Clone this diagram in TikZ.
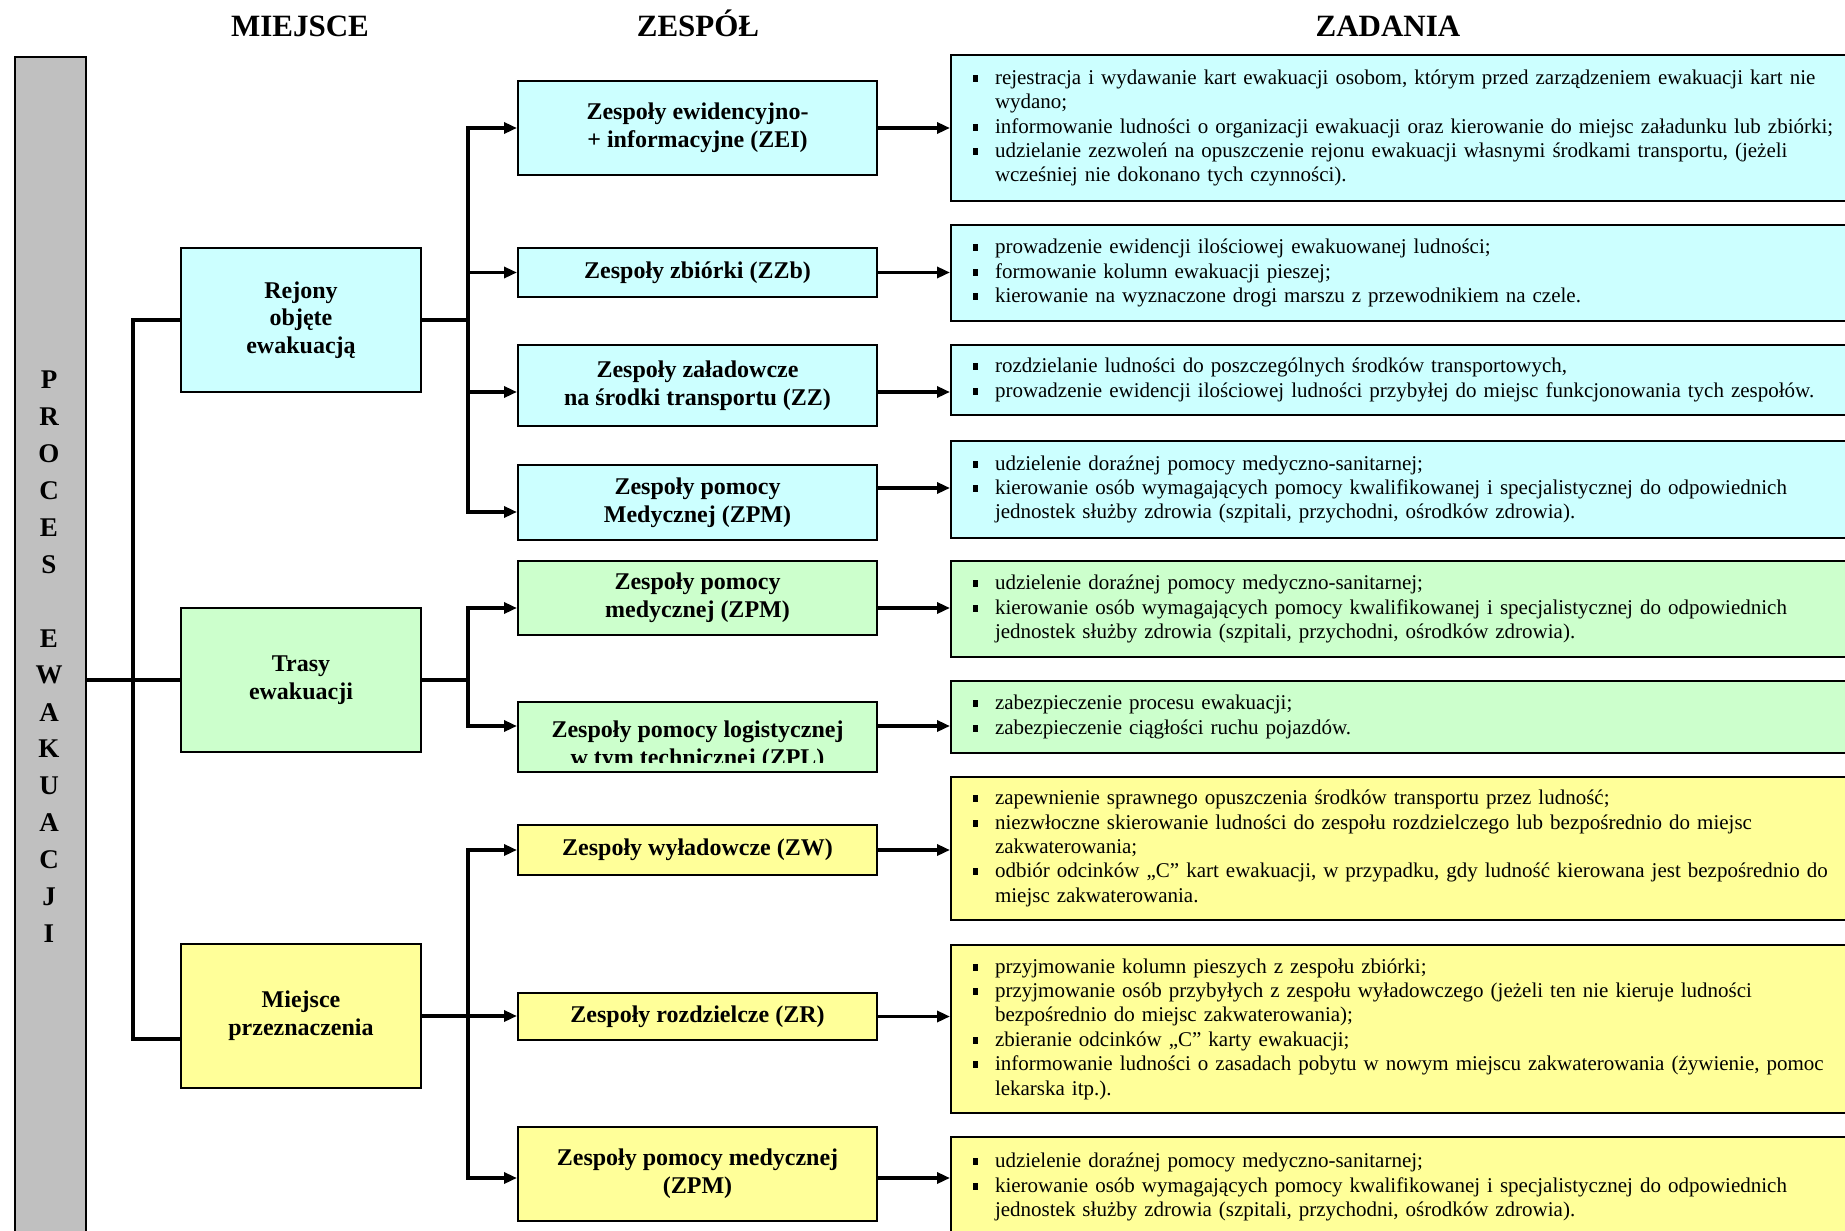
\documentclass[tikz,border=0pt]{standalone}
\usepackage{fontspec}
\setmainfont{Liberation Serif}
\usetikzlibrary{arrows.meta}
\newcommand\itm{\makebox[22.5pt][l]{\rule[2.5pt]{5.5pt}{7pt}}}
\newcommand\cnt{\hspace*{22.5pt}}
\begin{document}
\begin{tikzpicture}[x=1pt,y=-1pt,
  zespoltekst/.style={align=center, font=\bfseries\fontsize{24}{28}\selectfont},
  miejscebox/.style={draw, line width=2pt, minimum width=240pt, minimum height=144pt, inner sep=0pt, align=center, font=\bfseries\fontsize{24}{27.6}\selectfont},
  zespolbox/.style={draw, line width=2pt, minimum width=359pt, inner sep=0pt, zespoltekst},
  zadaniebox/.style={draw, line width=2pt, anchor=west, text width=900pt, inner xsep=21.5pt, inner ysep=0pt, align=left, font=\fontsize{21}{24.4}\selectfont},
  naglowek/.style={anchor=base, font=\bfseries\fontsize{31}{36}\selectfont},
  litera/.style={font=\bfseries\fontsize{27}{30}\selectfont},
  linia/.style={line width=3.5pt},
  strzalka/.style={line width=3.5pt, -{Triangle[length=13pt,width=11pt]}}]
\path[use as bounding box, clip] (0,0) rectangle (1845,1231);
\fill[white] (0,0) rectangle (1845,1231);
\definecolor{blekit}{HTML}{CCFFFF}
\definecolor{zielen}{HTML}{CCFFCC}
\definecolor{zolty}{HTML}{FFFF99}
\definecolor{szary}{HTML}{C0C0C0}
% naglowki kolumn
\node[naglowek] (hmiejsce) at (300,37) {MIEJSCE};
\node[naglowek] (hzespol) at (698,37) {ZESPÓŁ};
\node[naglowek] (hzadania) at (1388,37) {ZADANIA};
% pasek procesu
\node[draw, line width=2pt, fill=szary, minimum width=71pt, minimum height=1250pt, anchor=north west, inner sep=0pt] (proces) at (14,56) {};
\foreach \l [count=\i from 0] in {P,R,O,C,E,S} \node[litera] (p\i) at (49,380+36.9*\i) {\l};
\foreach \l [count=\i from 7] in {E,W,A,K,U,A,C,J,I} \node[litera] (e\i) at (49,380+36.9*\i) {\l};
% miejsca
\node[miejscebox, fill=blekit] (rejony) at (301,320) {Rejony\\objęte\\ewakuacją};
\node[miejscebox, fill=zielen] (trasy) at (301,680) {Trasy\\ewakuacji};
\node[miejscebox, fill=zolty] (miejsce) at (301,1016) {Miejsce\\przeznaczenia};
% zespoly
\node[zespolbox, fill=blekit, minimum height=94pt] (zei) at (697.5,128) {Zespoły ewidencyjno-\\+ informacyjne (ZEI)};
\node[zespolbox, fill=blekit, minimum height=49pt] (zzb) at (697.5,272.5) {Zespoły zbiórki (ZZb)};
\node[zespolbox, fill=blekit, minimum height=81pt] (zz) at (697.5,385.5) {Zespoły załadowcze\\na środki transportu (ZZ)};
\node[zespolbox, fill=blekit, minimum height=75pt] (zpm) at (697.5,502.5) {Zespoły pomocy\\Medycznej (ZPM)};
\node[zespolbox, fill=zielen, minimum height=74pt] (zpmt) at (697.5,598) {Zespoły pomocy\\medycznej (ZPM)};
\node[zespolbox, fill=zielen, minimum height=70pt, path picture={
  \clip (path picture bounding box.north west) rectangle ([yshift=10pt]path picture bounding box.south east);
  \node[zespoltekst] (zpltekst) at ([yshift=-8.5pt]path picture bounding box.center) {Zespoły pomocy logistycznej\\w tym technicznej (ZPL)};}] (zpl) at (697.5,737) {};
\node[zespolbox, fill=zolty, minimum height=50pt] (zw) at (697.5,850) {Zespoły wyładowcze (ZW)};
\node[zespolbox, fill=zolty, minimum height=47pt] (zr) at (697.5,1016.5) {Zespoły rozdzielcze (ZR)};
\node[zespolbox, fill=zolty, minimum height=94pt] (zpmm) at (697.5,1174) {Zespoły pomocy medycznej\\(ZPM)};
% zadania
\node[zadaniebox, fill=blekit, minimum height=146pt] (t1) at (950,128) {\itm rejestracja i wydawanie kart ewakuacji osobom, którym przed zarządzeniem ewakuacji kart nie\\\cnt wydano;\\\itm informowanie ludności o organizacji ewakuacji oraz kierowanie do miejsc załadunku lub zbiórki;\\\itm udzielanie zezwoleń na opuszczenie rejonu ewakuacji własnymi środkami transportu, (jeżeli\\\cnt wcześniej nie dokonano tych czynności).};
\node[zadaniebox, fill=blekit, minimum height=96pt] (t2) at (950,273) {\itm prowadzenie ewidencji ilościowej ewakuowanej ludności;\\\itm formowanie kolumn ewakuacji pieszej;\\\itm kierowanie na wyznaczone drogi marszu z przewodnikiem na czele.};
\node[zadaniebox, fill=blekit, minimum height=70pt] (t3) at (950,380) {\itm rozdzielanie ludności do poszczególnych środków transportowych,\\\itm prowadzenie ewidencji ilościowej ludności przybyłej do miejsc funkcjonowania tych zespołów.};
\node[zadaniebox, fill=blekit, minimum height=97pt] (t4) at (950,489.5) {\itm udzielenie doraźnej pomocy medyczno-sanitarnej;\\\itm kierowanie osób wymagających pomocy kwalifikowanej i specjalistycznej do odpowiednich\\\cnt jednostek służby zdrowia (szpitali, przychodni, ośrodków zdrowia).};
\node[zadaniebox, fill=zielen, minimum height=96pt] (t5) at (950,609) {\itm udzielenie doraźnej pomocy medyczno-sanitarnej;\\\itm kierowanie osób wymagających pomocy kwalifikowanej i specjalistycznej do odpowiednich\\\cnt jednostek służby zdrowia (szpitali, przychodni, ośrodków zdrowia).};
\node[zadaniebox, fill=zielen, minimum height=72pt] (t6) at (950,717) {\itm zabezpieczenie procesu ewakuacji;\\\itm zabezpieczenie ciągłości ruchu pojazdów.};
\node[zadaniebox, fill=zolty, minimum height=143pt] (t7) at (950,848.5) {\itm zapewnienie sprawnego opuszczenia środków transportu przez ludność;\\\itm niezwłoczne skierowanie ludności do zespołu rozdzielczego lub bezpośrednio do miejsc\\\cnt zakwaterowania;\\\itm odbiór odcinków „C” kart ewakuacji, w przypadku, gdy ludność kierowana jest bezpośrednio do\\\cnt miejsc zakwaterowania.};
\node[zadaniebox, fill=zolty, minimum height=168pt] (t8) at (950,1029) {\itm przyjmowanie kolumn pieszych z zespołu zbiórki;\\\itm przyjmowanie osób przybyłych z zespołu wyładowczego (jeżeli ten nie kieruje ludności\\\cnt bezpośrednio do miejsc zakwaterowania);\\\itm zbieranie odcinków „C” karty ewakuacji;\\\itm informowanie ludności o zasadach pobytu w nowym miejscu zakwaterowania (żywienie, pomoc\\\cnt lekarska itp.).};
\node[zadaniebox, fill=zolty, minimum height=100pt] (t9) at (950,1187) {\itm udzielenie doraźnej pomocy medyczno-sanitarnej;\\\itm kierowanie osób wymagających pomocy kwalifikowanej i specjalistycznej do odpowiednich\\\cnt jednostek służby zdrowia (szpitali, przychodni, ośrodków zdrowia).};
% polaczenia
\coordinate (lewa) at (133,680);
\coordinate (szyna) at (468,0);
\draw[linia] (proces.east |- trasy.west) -- (trasy.west);
\draw[linia] (rejony.west) -| (lewa) |- ([yshift=-23pt]miejsce.west);
\draw[linia] (rejony.east) -- (rejony.east -| szyna);
\foreach \m/\d in {zei/0pt, zzb/0pt, zz/-6.5pt, zpm/-9.5pt} \draw[strzalka] (rejony.east -| szyna) |- ([yshift=\d]\m.west);
\draw[linia] (trasy.east) -- (trasy.east -| szyna);
\foreach \m/\d in {zpmt/-10pt, zpl/11pt} \draw[strzalka] (trasy.east -| szyna) |- ([yshift=\d]\m.west);
\draw[strzalka] (miejsce.east) -- (miejsce.east -| zr.west);
\foreach \m/\d in {zw/0pt, zpmm/-4pt} \draw[strzalka] (miejsce.east -| szyna) |- ([yshift=\d]\m.west);
\foreach \m/\t/\d in {zei/t1/0pt, zzb/t2/0pt, zz/t3/-6.5pt, zpm/t4/14.5pt, zpmt/t5/-10pt, zpl/t6/11pt, zw/t7/0pt, zr/t8/0pt, zpmm/t9/-4pt} {
  \coordinate (wy\m) at ([yshift=\d]\m.east);
  \draw[strzalka] (wy\m) -- (wy\m -| \t.west);
}
\end{tikzpicture}
\end{document}
